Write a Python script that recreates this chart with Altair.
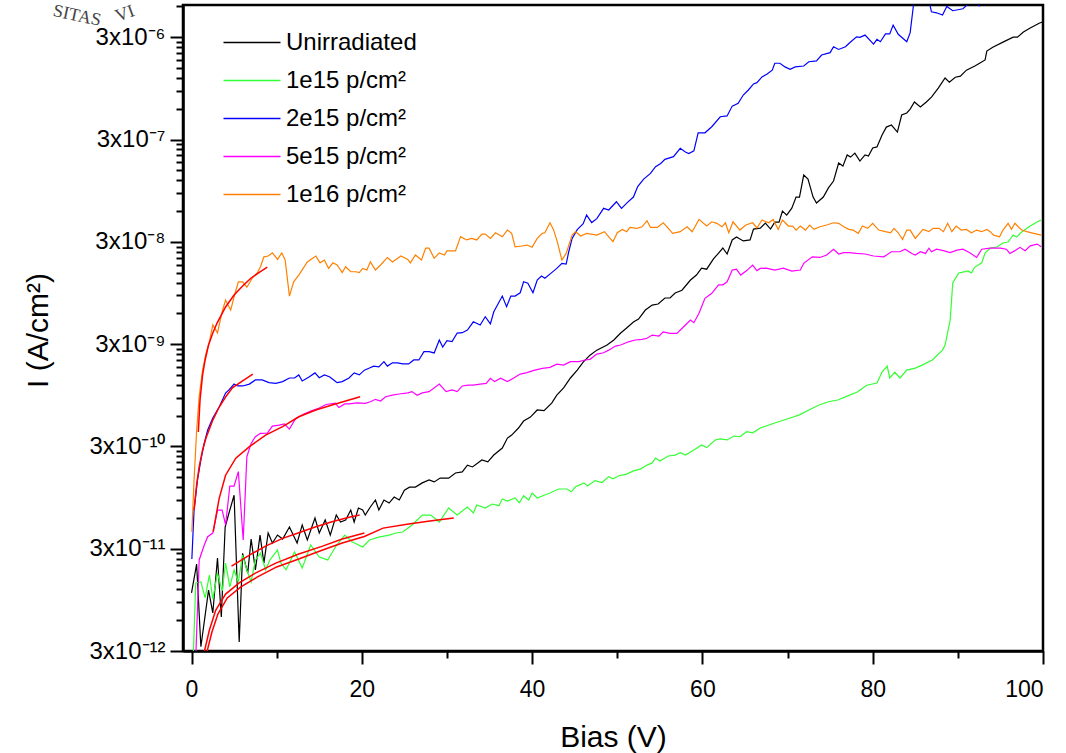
import altair as alt
import pandas as pd

# ---------------- data ----------------
SERIES = ["Unirradiated", "1e15 p/cm²", "2e15 p/cm²", "5e15 p/cm²", "1e16 p/cm²"]
COLORS = ["#000000", "#33FF33", "#0000FF", "#FF00FF", "#FF8000"]

UNIRR_X = [0.0, 0.6, 1.1, 2.0, 2.5, 3.05, 3.5, 3.95, 4.4, 5.0, 5.6, 6.0, 6.6, 7.0, 7.5, 8.05, 8.5, 9.0, 9.5,
           10.1, 10.7, 11.5, 12.4, 13.0, 13.6, 14.5, 15.0, 15.7, 16.3, 17.0, 17.5, 18.1, 18.7, 19.1, 19.6,
           20.1, 20.4, 21.0, 21.6, 22.0, 22.6, 23.2, 23.8, 24.4, 25.0, 25.6, 26.3, 27.1, 27.9, 28.5, 29.2,
           30.2, 31.0, 31.8, 32.4, 33.0, 34.1, 34.8, 35.5, 36.5, 37.1, 37.6, 38.4, 39.0, 39.8, 40.6, 41.4,
           42.3, 42.9, 43.7, 44.5, 45.3, 46.0, 46.8, 47.6, 48.8, 49.6, 50.4, 51.1, 51.9, 52.5, 53.3, 54.1,
           54.8, 55.6, 56.2, 56.8, 57.6, 58.6, 59.3, 59.9, 60.5, 61.3, 61.9, 62.4, 62.9, 63.5, 64.0, 64.8,
           65.6, 66.0, 66.8, 67.4, 68.0, 68.5, 69.0, 69.4, 69.9, 70.5, 71.0, 71.4, 71.9, 72.4, 73.0, 73.4,
           74.2, 74.8, 75.4, 76.0, 76.5, 77.0, 77.4, 77.9, 78.5, 79.1, 79.5, 80.0, 80.5, 81.1, 81.6, 82.2,
           82.9, 83.4, 84.0, 84.4, 84.9, 85.6, 86.3, 86.9, 87.7, 88.5, 89.0, 89.7, 90.3, 91.0, 92.0, 92.6,
           93.2, 93.4, 94.1, 95.3, 96.5, 97.0, 97.7, 98.5, 99.6, 100.0]
UNIRR_I = [1.11e-11, 2.12e-11, 3.3e-12, 1.18e-11, 7.06e-12, 2.43e-11, 6.44e-12, 4.89e-11, 6.70e-11, 1.00e-10,
           3.67e-12, 2.7e-11, 1.73e-11, 3.73e-11, 1.86e-11, 4.08e-11, 2.17e-11, 4.27e-11, 3.41e-11,
           4.08e-11, 3.73e-11, 4.89e-11, 3.41e-11, 5.12e-11, 3.65e-11, 5.98e-11, 4.27e-11, 5.73e-11, 4.08e-11,
           6.40e-11, 5.47e-11, 5.73e-11, 7.16e-11, 5.47e-11, 7.50e-11, 7.16e-11, 6.40e-11, 7.67e-11, 8.98e-11,
           7.16e-11, 8.98e-11, 8.39e-11, 9.59e-11, 8.98e-11, 1.12e-10, 1.20e-10, 1.20e-10, 1.32e-10, 1.41e-10,
           1.35e-10, 1.47e-10, 1.47e-10, 1.65e-10, 1.69e-10, 1.97e-10, 1.89e-10, 2.21e-10, 2.12e-10, 2.47e-10,
           2.89e-10, 3.62e-10, 3.87e-10, 4.54e-10, 5.31e-10, 5.81e-10, 6.81e-10, 6.7e-10, 7.96e-10, 9.53e-10,
           1.12e-9, 1.40e-9, 1.67e-9, 2.00e-9, 2.34e-9, 2.62e-9, 2.94e-9, 3.29e-9, 3.85e-9, 4.31e-9, 4.93e-9,
           5.27e-9, 6.46e-9, 7.23e-9, 7.4e-9, 8.47e-9, 8.47e-9, 9.49e-9, 1.01e-8, 1.27e-8, 1.42e-8, 1.66e-8,
           1.62e-8, 2.04e-8, 2.33e-8, 2.61e-8, 2.28e-8, 3.13e-8, 3.34e-8, 3.06e-8, 3.13e-8, 4.00e-8, 4.09e-8,
           4.58e-8, 4.00e-8, 4.68e-8, 4.68e-8, 6.00e-8, 5.48e-8, 6.41e-8, 8.22e-8, 8.22e-8, 1.35e-7, 1.23e-7,
           8.22e-8, 7.18e-8, 8.22e-8, 1.01e-7, 1.18e-7, 1.77e-7, 1.65e-7, 2.12e-7, 2.02e-7, 2.21e-7, 1.85e-7,
           2.12e-7, 2.07e-7, 2.48e-7, 2.54e-7, 3.32e-7, 3.97e-7, 4.16e-7, 3.55e-7, 5.21e-7, 5.46e-7, 5.96e-7,
           6.98e-7, 6.24e-7, 6.98e-7, 7.80e-7, 9.55e-7, 1.20e-6, 1.09e-6, 1.22e-6, 1.25e-6, 1.43e-6, 1.57e-6,
           1.68e-6, 1.80e-6, 2.20e-6, 2.40e-6, 2.69e-6, 3.01e-6, 3.01e-6, 3.37e-6, 3.69e-6, 4.13e-6, 4.23e-6]

E15_X = [0.2, 0.5, 1.1, 1.6, 2.1, 2.5, 3.05, 3.6, 4.0, 4.5, 5.0, 5.5, 6.0, 6.5, 7.0, 7.5, 8.1, 8.7, 9.2,
         10.1, 10.5, 11.1, 12.1, 13.0, 14.0, 15.0, 16.0, 16.9, 18.0, 18.9, 20.1, 20.9, 22.0, 23.2, 24.0,
         24.8, 25.9, 27.1, 28.1, 29.1, 30.2, 31.2, 32.4, 33.1, 33.5, 34.5, 35.3, 36.1, 36.5, 37.1, 38.0,
         38.5, 39.0, 39.6, 40.0, 40.6, 41.4, 42.1, 43.1, 44.1, 44.6, 45.1, 46.1, 46.5, 47.4, 48.2, 49.0,
         49.5, 50.2, 51.1, 51.9, 52.7, 53.5, 54.1, 54.5, 55.0, 56.0, 56.8, 57.4, 58.0, 59.0, 59.9, 60.5,
         61.5, 62.1, 62.9, 63.7, 64.4, 65.2, 65.9, 66.8, 68.5, 70.3, 71.4, 72.5, 73.7, 74.8, 75.9, 77.0,
         78.2, 79.3, 80.5, 81.1, 81.7, 82.0, 82.6, 83.2, 84.0, 85.0, 85.8, 87.0, 88.2, 88.5, 89.1, 89.4,
         90.1, 90.6, 91.2, 91.6, 92.0, 92.4, 92.8, 93.2, 93.8, 94.6, 95.3, 95.9, 96.5, 96.9, 97.5, 98.5,
         99.3, 99.8]
E15_I = [2.6e-12, 1.39e-11, 1.42e-11, 9.9e-12, 1.66e-11, 9.66e-12, 1.73e-11, 1.16e-11, 2.17e-11, 1.27e-11,
         1.86e-11, 1.42e-11, 2.60e-11, 1.86e-11, 1.42e-11, 2.33e-11, 2.72e-11, 1.86e-11, 2.33e-11,
         2.91e-11, 2.17e-11, 1.86e-11, 2.79e-11, 1.94e-11, 3.26e-11, 2.49e-11, 2.33e-11, 3.12e-11, 4.08e-11,
         3.48e-11, 3.12e-11, 3.65e-11, 3.90e-11, 4.08e-11, 4.27e-11, 4.37e-11, 5.12e-11, 6.40e-11, 6.40e-11,
         5.47e-11, 7.50e-11, 6.40e-11, 7.67e-11, 6.70e-11, 8.02e-11, 7.50e-11, 8.20e-11, 7.9e-11, 9.19e-11,
         8.78e-11, 9.40e-11, 8.45e-11, 9.89e-11, 8.98e-11, 1.05e-10, 9.40e-11, 1.00e-10, 1.05e-10, 1.15e-10,
         1.15e-10, 1.08e-10, 1.21e-10, 1.32e-10, 1.23e-10, 1.39e-10, 1.33e-10, 1.52e-10, 1.45e-10, 1.55e-10,
         1.61e-10, 1.73e-10, 1.80e-10, 1.97e-10, 2.07e-10, 2.31e-10, 2.16e-10, 2.42e-10, 2.47e-10, 2.61e-10,
         2.47e-10, 2.77e-10, 3.10e-10, 2.92e-10, 3.47e-10, 3.55e-10, 3.47e-10, 3.79e-10, 3.73e-10, 4.18e-10,
         4.08e-10, 4.54e-10, 5.08e-10, 5.69e-10, 6.1e-10, 6.81e-10, 7.62e-10, 8.2e-10, 8.53e-10, 9.3e-10,
         1.02e-9, 1.19e-9, 1.25e-9, 1.60e-9, 1.83e-9, 1.40e-9, 1.60e-9, 1.40e-9, 1.67e-9, 1.75e-9, 1.87e-9,
         2.10e-9, 2.62e-9, 2.94e-9, 5.16e-9, 1.19e-8, 1.49e-8, 1.52e-8, 1.56e-8, 1.49e-8, 1.70e-8, 1.78e-8,
         1.87e-8, 2.33e-8, 2.61e-8, 2.67e-8, 2.92e-8, 2.99e-8, 3.50e-8, 3.34e-8, 3.74e-8, 4.28e-8, 4.68e-8,
         4.90e-8]

E15B_X = [0.04, 0.3, 0.7, 1.1, 1.5, 1.9, 2.5, 3.25, 4.0, 4.4, 5.0, 5.4, 6.0, 6.8, 7.5, 8.3, 9.1, 9.9, 10.7,
          11.5, 12.1, 12.6, 13.0, 13.8, 14.5, 15.0, 15.6, 16.2, 16.7, 17.1, 17.7, 18.5, 19.1, 19.7, 20.3,
          20.9, 21.4, 22.0, 22.6, 23.0, 23.6, 24.2, 24.8, 25.5, 26.1, 26.7, 27.3, 27.9, 28.5, 29.1, 29.5,
          30.0, 30.6, 31.2, 31.8, 32.4, 33.1, 33.9, 34.5, 35.1, 35.5, 36.5, 37.0, 37.5, 38.0, 38.6, 39.0,
          39.5, 40.1, 40.6, 41.1, 41.5, 42.3, 42.9, 43.5, 44.0, 44.3, 44.7, 45.3, 46.0, 46.4, 47.0, 47.6,
          48.4, 49.0, 49.9, 50.5, 51.2, 51.9, 52.4, 53.1, 53.9, 54.5, 55.1, 55.6, 56.6, 57.4, 58.0, 58.4,
          59.0, 59.5, 60.3, 61.1, 62.1, 62.9, 63.5, 64.2, 64.8, 65.4, 66.0, 66.4, 67.0, 67.6, 68.2, 68.5,
          69.1, 69.7, 70.3, 70.9, 71.9, 72.5, 73.4, 74.0, 75.0, 75.4, 76.0, 76.8, 77.3, 78.1, 78.5, 79.1,
          80.1, 80.5, 80.9, 81.5, 82.0, 82.4, 83.0, 84.0, 84.4, 84.8, 85.5, 86.5, 86.9, 87.5, 88.2, 88.7,
          89.4, 90.6, 91.0, 91.6, 92.2, 92.5, 93.0, 96.0, 100.0]
E15B_I = [2.38e-11, 7.16e-11, 1.41e-10, 2.21e-10, 3.24e-10, 4.34e-10, 5.69e-10, 7.28e-10, 9.98e-10, 1.07e-9,
          1.22e-9, 1.17e-9, 1.17e-9, 1.22e-9, 1.34e-9, 1.34e-9, 1.26e-9, 1.24e-9, 1.29e-9, 1.40e-9, 1.40e-9,
          1.50e-9, 1.31e-9, 1.43e-9, 1.57e-9, 1.41e-9, 1.50e-9, 1.44e-9, 1.34e-9, 1.26e-9, 1.29e-9, 1.40e-9,
          1.57e-9, 1.50e-9, 1.67e-9, 1.75e-9, 1.83e-9, 1.80e-9, 2.02e-9, 1.83e-9, 1.97e-9, 1.97e-9, 1.92e-9,
          1.92e-9, 2.10e-9, 2.10e-9, 2.53e-9, 2.53e-9, 2.46e-9, 3.29e-9, 2.81e-9, 3.24e-9, 3.17e-9, 3.85e-9,
          3.88e-9, 4.12e-9, 4.96e-9, 4.62e-9, 5.56e-9, 4.73e-9, 6.22e-9, 8.85e-9, 6.97e-9, 8.85e-9, 8.85e-9,
          9.53e-9, 1.22e-8, 1.18e-8, 9.53e-9, 1.27e-8, 1.39e-8, 1.32e-8, 1.50e-8, 1.65e-8, 1.85e-8, 1.82e-8,
          2.40e-8, 3.24e-8, 3.95e-8, 4.51e-8, 5.48e-8, 4.63e-8, 5.05e-8, 6.38e-8, 6.14e-8, 7.40e-8, 6.38e-8,
          7.3e-8, 8.22e-8, 1.04e-7, 1.23e-7, 1.40e-7, 1.63e-7, 1.75e-7, 1.92e-7, 2.04e-7, 2.46e-7, 2.27e-7,
          2.19e-7, 2.33e-7, 3.49e-7, 3.49e-7, 4.00e-7, 5.01e-7, 5.10e-7, 6.37e-7, 6.78e-7, 8.17e-7, 9.15e-7,
          1.05e-6, 1.08e-6, 1.23e-6, 1.31e-6, 1.43e-6, 1.67e-6, 1.67e-6, 1.54e-6, 1.46e-6, 1.54e-6, 1.57e-6,
          1.73e-6, 1.76e-6, 2.01e-6, 2.12e-6, 2.42e-6, 2.28e-6, 2.42e-6, 2.65e-6, 3.03e-6, 2.99e-6, 3.15e-6,
          2.57e-6, 2.86e-6, 2.71e-6, 3.23e-6, 3.23e-6, 3.94e-6, 3.21e-6, 2.71e-6, 3.33e-6, 6.3e-6, 8.0e-6,
          7.5e-6, 5.32e-6, 5.2e-6, 4.94e-6, 6.0e-6, 5.45e-6, 5.7e-6, 6.1e-6, 7.2e-6, 6.6e-6, 6.1e-6, 7.5e-6,
          8.5e-6, 9.0e-6]

E15C_X = [0.5, 0.9, 1.5, 1.9, 2.5, 3.05, 3.6, 4.0, 4.5, 5.0, 5.5, 6.07, 6.5, 7.0, 7.5, 8.1, 8.9, 9.5, 10.3,
          10.9, 11.5, 12.2, 13.2, 14.0, 15.0, 15.8, 16.9, 17.3, 18.0, 18.5, 19.5, 20.4, 21.0, 21.6, 22.2,
          22.8, 23.6, 24.4, 25.4, 25.9, 26.5, 27.1, 27.9, 29.1, 29.9, 30.6, 31.2, 31.8, 32.5, 33.1, 33.9,
          34.6, 35.1, 35.6, 36.3, 37.1, 37.8, 38.6, 39.4, 40.2, 41.2, 42.1, 42.9, 43.7, 44.5, 45.5, 46.2,
          46.8, 47.6, 48.4, 49.0, 49.8, 50.4, 50.9, 51.3, 52.1, 52.9, 53.5, 54.1, 54.9, 55.4, 56.2, 57.0,
          57.8, 58.6, 59.0, 59.6, 60.3, 61.1, 61.9, 62.4, 62.9, 63.5, 64.0, 64.5, 65.2, 65.9, 66.4, 66.8,
          67.5, 68.5, 69.5, 70.5, 71.5, 71.9, 72.9, 73.8, 74.6, 75.4, 76.0, 76.6, 77.2, 78.1, 79.1, 80.1,
          81.3, 82.2, 83.2, 83.8, 84.6, 85.0, 85.6, 86.2, 86.6, 86.9, 87.5, 88.3, 89.1, 89.9, 90.6, 91.4,
          92.2, 92.8, 93.8, 95.0, 95.7, 96.1, 96.7, 97.3, 97.9, 98.5, 99.3, 99.8]
E15C_I = [2.6e-12, 2.33e-11, 3.26e-11, 3.93e-11, 4.27e-11, 7.16e-11, 7.16e-11, 5.12e-11, 1.23e-10, 1.23e-10,
          1.70e-10, 3.65e-11, 2.38e-10, 3.21e-10, 3.73e-10, 4.03e-10, 4.05e-10, 4.74e-10, 4.85e-10, 4.97e-10,
          4.43e-10, 5.56e-10, 6.22e-10, 6.65e-10, 7.12e-10, 7.71e-10, 7.96e-10, 7.2e-10, 7.8e-10, 7.8e-10,
          8.0e-10, 7.9e-10, 8.20e-10, 8.66e-10, 8.33e-10, 9.19e-10, 9.5e-10, 9.76e-10, 1.0e-9, 1.03e-9,
          9.5e-10, 1.0e-9, 1.03e-9, 1.22e-9, 1.03e-9, 1.07e-9, 1.03e-9, 1.17e-9, 1.19e-9, 1.19e-9, 1.22e-9,
          1.24e-9, 1.39e-9, 1.29e-9, 1.39e-9, 1.29e-9, 1.39e-9, 1.53e-9, 1.58e-9, 1.66e-9, 1.74e-9, 1.78e-9,
          1.91e-9, 1.87e-9, 2.02e-9, 2.02e-9, 2.10e-9, 2.13e-9, 2.40e-9, 2.47e-9, 2.62e-9, 2.87e-9, 2.94e-9,
          3.06e-9, 3.16e-9, 3.29e-9, 3.34e-9, 3.42e-9, 3.68e-9, 3.6e-9, 3.96e-9, 3.82e-9, 3.82e-9, 4.44e-9,
          5.16e-9, 4.86e-9, 6.0e-9, 8.41e-9, 9.42e-9, 1.14e-8, 1.14e-8, 1.22e-8, 1.59e-8, 1.62e-8, 1.42e-8,
          1.57e-8, 1.78e-8, 1.57e-8, 1.65e-8, 1.66e-8, 1.59e-8, 1.66e-8, 1.55e-8, 1.59e-8, 1.85e-8, 2.14e-8,
          2.11e-8, 2.23e-8, 2.54e-8, 2.28e-8, 2.35e-8, 2.35e-8, 2.31e-8, 2.28e-8, 2.18e-8, 2.14e-8, 2.40e-8,
          2.40e-8, 2.54e-8, 2.31e-8, 2.23e-8, 2.40e-8, 2.31e-8, 2.60e-8, 2.40e-8, 2.54e-8, 2.46e-8, 2.35e-8,
          2.49e-8, 2.54e-8, 2.35e-8, 2.11e-8, 2.54e-8, 2.60e-8, 2.60e-8, 2.54e-8, 2.31e-8, 2.46e-8, 2.65e-8,
          2.46e-8, 2.74e-8, 2.85e-8, 2.68e-8]

E16_X = [0.04, 0.3, 0.6, 0.9, 1.3, 1.7, 2.1, 2.5, 3.05, 3.6, 4.0, 4.6, 5.0, 5.5, 6.0, 6.5, 7.2, 7.7, 8.1, 8.5,
         9.0, 9.5, 10.1, 10.6, 11.0, 11.5, 12.0, 12.6, 13.6, 14.6, 15.1, 15.6, 16.1, 16.6, 17.1, 17.7, 18.1,
         18.7, 19.3, 19.7, 20.1, 20.6, 21.0, 21.6, 22.2, 23.0, 23.6, 24.6, 25.4, 25.7, 26.3, 27.0, 27.5, 27.9,
         28.5, 29.1, 29.7, 30.0, 31.0, 31.6, 32.3, 32.9, 33.5, 34.1, 34.5, 35.1, 35.7, 36.5, 37.1, 37.6, 38.0,
         38.8, 39.4, 40.0, 40.6, 41.2, 41.5, 42.1, 42.5, 42.9, 43.5, 44.0, 44.7, 45.1, 45.7, 46.4, 47.6, 48.5,
         49.0, 49.5, 50.0, 50.6, 51.1, 51.5, 52.3, 52.9, 53.5, 53.9, 54.7, 55.4, 56.0, 56.5, 57.4, 58.2, 58.8,
         59.6, 60.5, 61.1, 61.7, 62.3, 62.7, 63.1, 63.6, 64.4, 65.1, 65.9, 66.4, 67.0, 67.8, 68.3, 68.9, 69.4,
         70.1, 70.6, 71.0, 71.5, 72.1, 72.6, 73.1, 73.8, 74.6, 75.4, 76.0, 76.6, 77.2, 77.7, 78.3, 78.8, 79.4,
         80.0, 80.7, 81.5, 82.1, 82.5, 83.0, 83.5, 84.0, 84.4, 85.0, 85.9, 86.6, 87.1, 87.8, 88.3, 88.8, 89.3,
         89.8, 90.4, 91.0, 91.6, 92.2, 92.8, 93.4, 93.8, 94.2, 94.9, 95.3, 95.9, 96.3, 96.7, 97.1, 97.5, 98.1,
         98.9, 99.8]
E16_I = [4.4e-11, 1.41e-10, 4.24e-10, 9.2e-10, 1.67e-9, 2.44e-9, 3.16e-9, 4.62e-9, 3.87e-9, 6.22e-9, 8.09e-9,
         6.46e-9, 8.71e-9, 1.22e-8, 1.22e-8, 1.08e-8, 1.35e-8, 1.48e-8, 1.71e-8, 2.14e-8, 2.18e-8, 2.34e-8,
         2.02e-8, 2.34e-8, 1.99e-8, 8.85e-9, 1.22e-8, 1.42e-8, 1.91e-8, 2.18e-8, 1.87e-8, 1.99e-8, 1.65e-8,
         1.87e-8, 1.78e-8, 1.50e-8, 1.71e-8, 1.53e-8, 1.53e-8, 1.50e-8, 1.65e-8, 1.59e-8, 1.91e-8, 1.59e-8,
         1.78e-8, 2.11e-8, 1.91e-8, 2.18e-8, 2.02e-8, 1.87e-8, 2.23e-8, 1.99e-8, 2.60e-8, 2.60e-8, 2.07e-8,
         2.34e-8, 2.23e-8, 2.45e-8, 2.45e-8, 3.37e-8, 3.13e-8, 3.24e-8, 3.13e-8, 3.57e-8, 3.57e-8, 3.24e-8,
         3.68e-8, 3.36e-8, 3.91e-8, 3.63e-8, 2.68e-8, 2.73e-8, 2.79e-8, 2.65e-8, 3.24e-8, 3.63e-8, 3.68e-8,
         4.61e-8, 3.97e-8, 3.13e-8, 1.99e-8, 2.31e-8, 3.49e-8, 3.77e-8, 3.42e-8, 3.63e-8, 3.49e-8, 3.77e-8,
         3.36e-8, 3.01e-8, 3.68e-8, 3.97e-8, 3.77e-8, 4.15e-8, 4.06e-8, 4.21e-8, 4.82e-8, 4.15e-8, 4.15e-8,
         4.61e-8, 4.06e-8, 3.63e-8, 3.77e-8, 4.21e-8, 3.77e-8, 4.97e-8, 4.28e-8, 4.71e-8, 4.55e-8, 4.21e-8,
         4.61e-8, 3.68e-8, 4.71e-8, 3.91e-8, 4.38e-8, 4.61e-8, 4.1e-8, 4.90e-8, 4.61e-8, 4.97e-8, 3.97e-8,
         4.90e-8, 4.28e-8, 4.28e-8, 3.91e-8, 4.28e-8, 3.91e-8, 4.38e-8, 3.97e-8, 4.21e-8, 4.38e-8, 4.61e-8,
         4.55e-8, 4.21e-8, 3.97e-8, 3.91e-8, 3.63e-8, 4.28e-8, 4.06e-8, 4.55e-8, 3.91e-8, 3.77e-8, 3.68e-8,
         4.06e-8, 3.68e-8, 3.16e-8, 3.91e-8, 3.91e-8, 3.24e-8, 3.97e-8, 3.77e-8, 4.06e-8, 4.06e-8, 3.77e-8,
         4.55e-8, 3.77e-8, 4.28e-8, 3.91e-8, 3.97e-8, 3.68e-8, 3.91e-8, 3.77e-8, 3.97e-8, 3.77e-8, 3.49e-8,
         3.36e-8, 3.91e-8, 4.55e-8, 3.97e-8, 4.55e-8, 4.21e-8, 3.91e-8, 3.77e-8, 3.63e-8, 3.49e-8]

# red fit curves
FIT_NAMES = ["fit 1e16", "fit 2e15", "fit 5e15", "fit unirradiated", "fit 1e15 a", "fit 1e15 b"]
FIT_1E16_X = [0.8, 1.0, 1.3, 1.6, 2.0, 2.5, 3.0, 4.0, 5.0, 6.0, 7.0, 8.0, 8.9]
FIT_1E16_I = [4.15e-10, 8.53e-10, 1.50e-9, 2.10e-9, 2.94e-9, 3.85e-9, 4.82e-9, 6.92e-9, 9.06e-9, 1.11e-8,
              1.33e-8, 1.52e-8, 1.70e-8]
FIT_2E15_X = [0.3, 0.6, 0.9, 1.3, 1.7, 2.5, 3.25, 4.0, 4.8, 6.0, 7.2]
FIT_2E15_I = [7.16e-11, 1.26e-10, 1.89e-10, 2.77e-10, 3.62e-10, 5.43e-10, 7.28e-10, 9.12e-10, 1.12e-9, 1.31e-9,
              1.53e-9]
FIT_5E15_X = [2.55, 3.25, 4.0, 5.2, 6.8, 8.7, 10.7, 12.6, 14.6, 16.5, 18.5, 19.8]
FIT_5E15_I = [4.40e-11, 9.33e-11, 1.57e-10, 2.30e-10, 2.98e-10, 3.87e-10, 4.68e-10, 5.85e-10, 6.81e-10,
              7.62e-10, 8.53e-10, 9.19e-10]
FIT_UNIRR_X = [4.7, 6.8, 8.7, 10.7, 12.6, 14.6, 16.5, 18.5, 19.75]
FIT_UNIRR_I = [2.03e-11, 2.60e-11, 3.18e-11, 3.79e-11, 4.30e-11, 4.92e-11, 5.51e-11, 6.08e-11, 6.40e-11]
FIT_1E15A_X = [1.35, 2.1, 2.85, 4.0, 5.6, 7.5, 9.9, 12.6, 15.4, 17.7, 20.3]
FIT_1E15A_I = [2.6e-12, 4.81e-12, 7.55e-12, 1.08e-11, 1.39e-11, 1.73e-11, 2.17e-11, 2.66e-11, 3.18e-11,
               3.73e-11, 4.27e-11]
FIT_1E15B_X = [1.65, 2.4, 3.1, 4.2, 5.8, 7.7, 10.0, 12.6, 15.4, 17.7, 20.3, 22.5, 25.5, 28.0, 30.8]
FIT_1E15B_I = [2.6e-12, 4.60e-12, 6.90e-12, 9.9e-12, 1.27e-11, 1.58e-11, 1.99e-11, 2.38e-11, 2.91e-11,
               3.41e-11, 3.95e-11, 4.77e-11, 5.22e-11, 5.60e-11, 5.98e-11]

# axis ticks / labels
X_TICKS = [0, 10, 20, 30, 40, 50, 60, 70, 80, 90, 100]
Y_MAJOR = [3e-12, 3e-11, 3e-10, 3e-9, 3e-8, 3e-7, 3e-6]
Y_LABELS = ["3x10⁻¹²", "3x10⁻¹¹", "3x10⁻¹⁰", "3x10⁻⁹", "3x10⁻⁸", "3x10⁻⁷", "3x10⁻⁶"]
Y_MINOR_MULT = [2, 3, 4, 5, 6, 7, 8, 9]
X_DOMAIN = [-1.0, 100.0]
Y_DOMAIN = [3e-12, 6.2e-6]

# partial seal watermark in the top-left corner
SEAL_TEXT = ["SITAS", "VI"]

# ---------------- tables ----------------
data_rows = []
for name, xs, ys in zip(SERIES, [UNIRR_X, E15_X, E15B_X, E15C_X, E16_X],
                        [UNIRR_I, E15_I, E15B_I, E15C_I, E16_I]):
    for x, y in zip(xs, ys):
        data_rows.append({"bias": x, "current": y, "series": name})
df = pd.DataFrame(data_rows)

fit_rows = []
for name, xs, ys in zip(FIT_NAMES,
                        [FIT_1E16_X, FIT_2E15_X, FIT_5E15_X, FIT_UNIRR_X, FIT_1E15A_X, FIT_1E15B_X],
                        [FIT_1E16_I, FIT_2E15_I, FIT_5E15_I, FIT_UNIRR_I, FIT_1E15A_I, FIT_1E15B_I]):
    for x, y in zip(xs, ys):
        fit_rows.append({"bias": x, "current": y, "fit": name})
fdf = pd.DataFrame(fit_rows)

y_tick_values = []
for m in Y_MAJOR:
    y_tick_values.append(m)
    for k in Y_MINOR_MULT:
        v = m * k
        if v <= Y_DOMAIN[1]:
            y_tick_values.append(v)

y_label_expr = "''"
for v, lab in reversed(list(zip(Y_MAJOR, Y_LABELS))):
    y_label_expr = f"abs(datum.value/{v} - 1) < 0.01 ? '{lab}' : ({y_label_expr})"
y_major_test = " || ".join(f"abs(datum.value/{v} - 1) < 0.01" for v in Y_MAJOR)

FONT = "Liberation Sans"

x_axis = alt.Axis(
    values=X_TICKS, labelExpr="datum.value % 20 == 0 ? datum.label : ''",
    tickSize={"condition": {"test": "datum.value % 20 == 0", "value": 13}, "value": 7},
    tickWidth=2, tickColor="black", domainWidth=2.5, domainColor="black", grid=False,
    labelFont=FONT, labelFontSize=23, labelColor="black", labelPadding=14,
    title="Bias (V)", titleFont=FONT, titleFontSize=30, titleFontWeight="normal", titleColor="black",
    titleX=430, titleY=95, titleBaseline="alphabetic", titleAlign="center",
)
y_axis = alt.Axis(
    values=y_tick_values, labelExpr=y_label_expr,
    tickSize={"condition": {"test": y_major_test, "value": 13}, "value": 7},
    tickWidth=2, tickColor="black", domainWidth=2.5, domainColor="black", grid=False,
    labelFont=FONT, labelFontSize=24, labelColor="black", labelPadding=5,
    title="I (A/cm²)", titleFont=FONT, titleFontSize=30, titleFontWeight="normal", titleColor="black",
    titleX=-145, titleY=325, titleAngle=-90, titleBaseline="middle", titleAlign="center",
)

x_scale = alt.Scale(domain=X_DOMAIN, nice=False, zero=False)
y_scale = alt.Scale(type="log", domain=Y_DOMAIN, nice=False)

# legend symbol: a horizontal line twice as wide as the symbol box
lines = alt.Chart(df).mark_line(strokeWidth=1.2, clip=True).encode(
    x=alt.X("bias:Q", scale=x_scale, axis=x_axis),
    y=alt.Y("current:Q", scale=y_scale, axis=y_axis),
    color=alt.Color("series:N", scale=alt.Scale(domain=SERIES, range=COLORS), sort=SERIES,
                    legend=alt.Legend(title=None, orient="none", legendX=54, legendY=22.5,
                                      symbolType="M-2,0L2,0", symbolSize=812, symbolStrokeWidth=1.3,
                                      labelFont=FONT, labelFontSize=24, labelColor="black",
                                      labelOffset=19, rowPadding=11, padding=0)),
)

fits = alt.Chart(fdf).mark_line(strokeWidth=1.5, clip=True, color="#FF0000").encode(
    x=alt.X("bias:Q", scale=x_scale),
    y=alt.Y("current:Q", scale=y_scale),
    detail="fit:N",
)

seal1 = alt.Chart(pd.DataFrame({"t": [SEAL_TEXT[0]]})).mark_text(
    font="Liberation Serif", fontSize=18, color="#444444", angle=12, align="center", baseline="middle"
).encode(x=alt.value(-106), y=alt.value(11), text="t:N")
seal2 = alt.Chart(pd.DataFrame({"t": [SEAL_TEXT[1]]})).mark_text(
    font="Liberation Serif", fontSize=18, color="#444444", angle=340, align="center", baseline="middle"
).encode(x=alt.value(-58), y=alt.value(9), text="t:N")

chart = alt.layer(lines, fits, seal1, seal2).properties(
    width=860, height=646,
    padding={"left": 183, "top": 5, "right": 23, "bottom": 102},
    autosize=alt.AutoSizeParams(type="none"),
    background="white",
).configure_view(stroke="black", strokeWidth=2.5)

chart.save("out.html", embed_options={"renderer": "svg", "actions": False})
